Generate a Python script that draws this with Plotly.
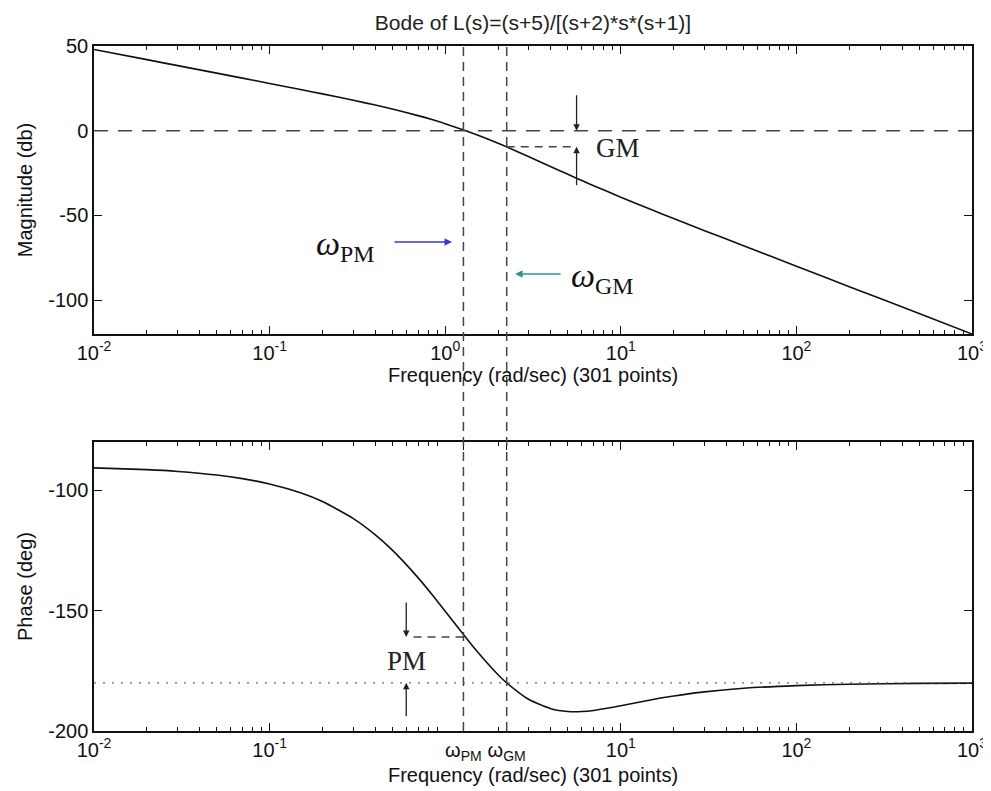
import math
import plotly.graph_objects as go

# ---- data ----
freq = [0.01, 0.02, 0.03, 0.05, 0.07, 0.1, 0.15, 0.2, 0.3, 0.4, 0.5, 0.7, 0.85, 1, 1.31,
        1.5, 2, 2.24, 3, 4, 5, 6, 7, 10, 15, 20, 30, 50, 100, 200, 500, 1000]
magnitude_db = [47.96, 41.94, 38.41, 33.97, 31.03, 27.91, 24.32, 21.73, 17.96, 15.13,
                12.79, 8.91, 6.41, 4.15, 0.0, -2.25, -7.42, -9.54, -15.37, -21.23,
                -25.76, -29.41, -32.44, -39.24, -46.68, -51.83, -58.99, -67.92, -79.99,
                -92.04, -107.96, -120.0]
phase_deg = [-90.74, -91.49, -92.23, -93.72, -95.21, -97.43, -101.10, -104.73, -111.80,
             -118.54, -124.90, -136.31, -143.74, -150.26, -161.18, -166.48, -176.63,
             -180.0, -186.92, -190.73, -191.89, -191.92, -191.46, -189.55, -187.03,
             -185.47, -183.74, -182.27, -181.14, -180.57, -180.23, -180.11]

w_pm = 1.27          # gain crossover frequency (phase-margin frequency)
w_gm = 2.24          # phase crossover frequency (gain-margin frequency)
gm_level_db = -9.5   # magnitude at w_gm
pm_level_deg = -161  # phase at w_pm
gm_arrow_w = 5.6
pm_arrow_w = 0.6

decade_vals = [0.01, 0.1, 1, 10, 100, 1000]
decade_text = ["10<sup>-2</sup>", "10<sup>-1</sup>", "10<sup>0</sup>",
               "10<sup>1</sup>", "10<sup>2</sup>", "10<sup>3</sup>"]
phase_x_vals = [0.01, 0.1, w_pm, w_gm, 10, 100, 1000]
phase_x_text = ["10<sup>-2</sup>", "10<sup>-1</sup>", "ω<sub>PM</sub>", "ω<sub>GM</sub>",
                "10<sup>1</sup>", "10<sup>2</sup>", "10<sup>3</sup>"]
mag_ticks = [50, 0, -50, -100]
mag_tick_text = ["50", "0", "-50", "-100"]
phase_ticks = [-100, -150, -200]
phase_tick_text = ["-100", "-150", "-200"]
minor_vals = [k * 10 ** e for e in range(-2, 3) for k in range(2, 10)]

title_text = "Bode of L(s)=(s+5)/[(s+2)*s*(s+1)]"
x_title = "Frequency (rad/sec) (301 points)"

# ---- figure (page body has an 8px margin, so positions are offset by it) ----
FONT = "Liberation Sans, Arial, sans-serif"
SERIF = "Liberation Serif, Times New Roman, serif"
OFF = 8
W, H = 983, 783


def px_x(p):
    return (p - OFF) / W


def px_y(p):
    return 1 - (p - OFF) / H


xdom = [px_x(94), px_x(972)]
ydom_top = [px_y(334), px_y(46)]
ydom_bot = [px_y(731), px_y(442)]

fig = go.Figure()
fig.add_trace(go.Scatter(x=freq, y=magnitude_db, xaxis="x", yaxis="y", mode="lines",
                         line=dict(color="#111", width=1.6, shape="spline", smoothing=0.6),
                         showlegend=False, hoverinfo="skip"))
fig.add_trace(go.Scatter(x=freq, y=phase_deg, xaxis="x2", yaxis="y2", mode="lines",
                         line=dict(color="#111", width=1.6, shape="spline", smoothing=0.6),
                         showlegend=False, hoverinfo="skip"))

axis_common = dict(showline=True, linecolor="#111", linewidth=1.5, mirror="ticks",
                   ticks="inside", ticklen=8, tickwidth=1.2, tickcolor="#111",
                   showgrid=False, zeroline=False, automargin=False,
                   tickfont=dict(family=FONT, size=20, color="#111"))

xcommon = dict(axis_common, type="log", range=[-2, 3], domain=xdom,
               minor=dict(tickvals=minor_vals, ticks="inside", ticklen=4,
                          tickcolor="#111", showgrid=False),
               title=dict(text=x_title, font=dict(family=FONT, size=20, color="#111"),
                          standoff=0))

fig.update_layout(
    width=W, height=H, template="none",
    paper_bgcolor="white", plot_bgcolor="white",
    margin=dict(l=0, r=0, t=0, b=0, autoexpand=False),
    title=dict(text=title_text, x=px_x(533), xanchor="center", y=px_y(23), yanchor="middle",
               font=dict(family=FONT, size=21, color="#222")),
    xaxis=dict(xcommon, anchor="y", tickmode="array", tickvals=decade_vals, ticktext=decade_text),
    yaxis=dict(axis_common, anchor="x", domain=ydom_top, range=[-120, 50],
               tickmode="array", tickvals=mag_ticks, ticktext=mag_tick_text,
               title=dict(text="Magnitude (db)", font=dict(family=FONT, size=20, color="#111"),
                          standoff=10)),
    xaxis2=dict(xcommon, anchor="y2", tickmode="array", tickvals=phase_x_vals,
                ticktext=phase_x_text),
    yaxis2=dict(axis_common, anchor="x2", domain=ydom_bot, range=[-200, -80],
                tickmode="array", tickvals=phase_ticks, ticktext=phase_tick_text,
                title=dict(text="Phase (deg)", font=dict(family=FONT, size=20, color="#111"),
                           standoff=10)),
)

dash_col = "#444"
shapes = [
    # 0 dB reference line
    dict(type="line", xref="x", yref="y", x0=0.01, x1=1000, y0=0, y1=0,
         line=dict(color=dash_col, width=1.5, dash="14px,10px")),
    # -180 deg reference line
    dict(type="line", xref="x2", yref="y2", x0=0.01, x1=1000, y0=-180, y1=-180,
         line=dict(color="#666", width=1.3, dash="2px,7px")),
    # crossover frequency lines spanning both plots
    dict(type="line", xref="x", yref="paper", x0=w_pm, x1=w_pm, y0=ydom_bot[0], y1=ydom_top[1],
         line=dict(color=dash_col, width=1.5, dash="9px,6px")),
    dict(type="line", xref="x", yref="paper", x0=w_gm, x1=w_gm, y0=ydom_bot[0], y1=ydom_top[1],
         line=dict(color=dash_col, width=1.5, dash="9px,6px")),
    # GM level
    dict(type="line", xref="x", yref="y", x0=w_gm, x1=gm_arrow_w, y0=gm_level_db, y1=gm_level_db,
         line=dict(color=dash_col, width=1.5, dash="8px,6px")),
    # PM level
    dict(type="line", xref="x2", yref="y2", x0=0.66, x1=w_pm, y0=pm_level_deg, y1=pm_level_deg,
         line=dict(color=dash_col, width=1.5, dash="8px,6px")),
]
fig.update_layout(shapes=shapes)

lg = math.log10
ann = [
    # GM arrows
    dict(xref="x", yref="y", x=lg(gm_arrow_w), y=0, ax=0, ay=-37, text="", showarrow=True,
         arrowhead=2, arrowsize=1, arrowwidth=1.3, arrowcolor="#222"),
    dict(xref="x", yref="y", x=lg(gm_arrow_w), y=gm_level_db, ax=0, ay=40, text="",
         showarrow=True, arrowhead=2, arrowsize=1, arrowwidth=1.3, arrowcolor="#222"),
    dict(xref="x", yref="y", x=lg(9.7), y=-10, text="GM", showarrow=False,
         font=dict(family=SERIF, size=27, color="#222")),
    # PM arrows
    dict(xref="x2", yref="y2", x=lg(pm_arrow_w), y=pm_level_deg, ax=0, ay=-36, text="",
         showarrow=True, arrowhead=2, arrowsize=1, arrowwidth=1.3, arrowcolor="#222"),
    dict(xref="x2", yref="y2", x=lg(pm_arrow_w), y=-180, ax=0, ay=35, text="",
         showarrow=True, arrowhead=2, arrowsize=1, arrowwidth=1.3, arrowcolor="#222"),
    dict(xref="x2", yref="y2", x=lg(pm_arrow_w), y=-171, text="PM", showarrow=False,
         font=dict(family=SERIF, size=27, color="#222")),
    # omega labels with coloured arrows
    dict(xref="x", yref="y", x=lg(0.268), y=-68, text="<i>ω</i><sub>PM</sub>", showarrow=False,
         font=dict(family=SERIF, size=34, color="#111")),
    dict(xref="x", yref="y", x=lg(1.093), y=-65.7, ax=-59, ay=0, text="", showarrow=True,
         arrowhead=2, arrowsize=1, arrowwidth=1.5, arrowcolor="#3b3bc8"),
    dict(xref="x", yref="y", x=lg(7.8), y=-87, text="<i>ω</i><sub>GM</sub>", showarrow=False,
         font=dict(family=SERIF, size=34, color="#111")),
    dict(xref="x", yref="y", x=lg(2.5), y=-84.6, ax=47, ay=0, text="", showarrow=True,
         arrowhead=2, arrowsize=1, arrowwidth=1.5, arrowcolor="#1f9a8c"),
]
fig.update_layout(annotations=ann)

fig.write_html("out.html")
